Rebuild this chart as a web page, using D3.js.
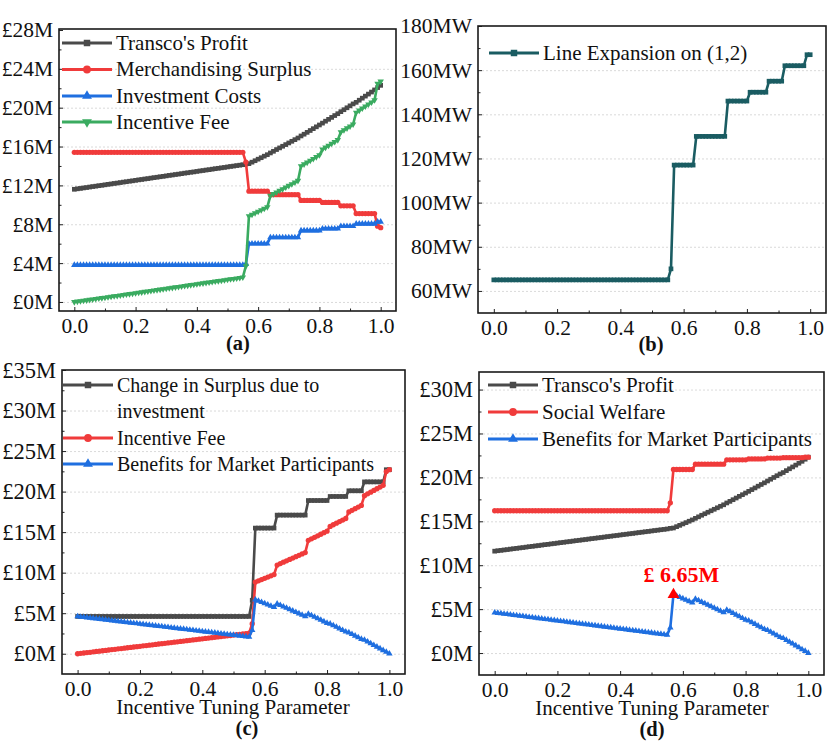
<!DOCTYPE html>
<html><head><meta charset="utf-8">
<script src="https://cdn.jsdelivr.net/npm/d3@7/dist/d3.min.js"></script>
<style>
body{margin:0;background:#fff}
text{font-family:"Liberation Serif","Times New Roman",serif}
</style>
</head><body>
<svg id="chart" width="830" height="748"></svg>
<script>
// ---------------- DATA ----------------
const tuning = [
0.00,0.01,0.02,0.03,0.04,0.05,0.06,0.07,0.08,0.09,
0.10,0.11,0.12,0.13,0.14,0.15,0.16,0.17,0.18,0.19,
0.20,0.21,0.22,0.23,0.24,0.25,0.26,0.27,0.28,0.29,
0.30,0.31,0.32,0.33,0.34,0.35,0.36,0.37,0.38,0.39,
0.40,0.41,0.42,0.43,0.44,0.45,0.46,0.47,0.48,0.49,
0.50,0.51,0.52,0.53,0.54,0.55,0.56,0.57,0.58,0.59,
0.60,0.61,0.62,0.63,0.64,0.65,0.66,0.67,0.68,0.69,
0.70,0.71,0.72,0.73,0.74,0.75,0.76,0.77,0.78,0.79,
0.80,0.81,0.82,0.83,0.84,0.85,0.86,0.87,0.88,0.89,
0.90,0.91,0.92,0.93,0.94,0.95,0.96,0.97,0.98,0.99,
1.00];

const transcoProfit = [
11.60,11.65,11.69,11.74,11.78,11.83,11.88,11.92,11.97,12.01,
12.06,12.11,12.15,12.20,12.24,12.29,12.34,12.38,12.43,12.47,
12.52,12.57,12.61,12.66,12.70,12.75,12.80,12.84,12.89,12.93,
12.98,13.03,13.07,13.12,13.16,13.21,13.26,13.30,13.35,13.39,
13.44,13.49,13.53,13.58,13.62,13.67,13.72,13.76,13.81,13.85,
13.90,13.95,13.99,14.04,14.08,14.13,14.20,14.24,14.39,14.54,
14.70,14.85,15.01,15.16,15.34,15.51,15.69,15.86,16.03,16.20,
16.37,16.54,16.71,16.88,17.09,17.27,17.46,17.65,17.84,18.03,
18.22,18.41,18.61,18.80,19.00,19.19,19.38,19.59,19.79,19.99,
20.19,20.39,20.55,20.77,20.98,21.19,21.40,21.61,21.83,22.07,
22.30];

const merchandisingSurplus = [
15.4,15.4,15.4,15.4,15.4,15.4,15.4,15.4,15.4,15.4,
15.4,15.4,15.4,15.4,15.4,15.4,15.4,15.4,15.4,15.4,
15.4,15.4,15.4,15.4,15.4,15.4,15.4,15.4,15.4,15.4,
15.4,15.4,15.4,15.4,15.4,15.4,15.4,15.4,15.4,15.4,
15.4,15.4,15.4,15.4,15.4,15.4,15.4,15.4,15.4,15.4,
15.4,15.4,15.4,15.4,15.4,15.4,14.4,11.4,11.4,11.4,
11.4,11.4,11.4,11.4,11.05,11.05,11.05,11.05,11.05,11.05,
11.05,11.05,11.05,11.05,10.45,10.45,10.45,10.45,10.45,10.45,
10.45,10.25,10.25,10.25,10.25,10.25,10.25,9.9,9.9,9.9,
9.9,9.9,9.1,9.1,9.1,9.1,9.1,9.1,9.1,7.8,
7.65];

const investmentCosts = [
3.8,3.8,3.8,3.8,3.8,3.8,3.8,3.8,3.8,3.8,
3.8,3.8,3.8,3.8,3.8,3.8,3.8,3.8,3.8,3.8,
3.8,3.8,3.8,3.8,3.8,3.8,3.8,3.8,3.8,3.8,
3.8,3.8,3.8,3.8,3.8,3.8,3.8,3.8,3.8,3.8,
3.8,3.8,3.8,3.8,3.8,3.8,3.8,3.8,3.8,3.8,
3.8,3.8,3.8,3.8,3.8,3.8,3.9,6.0,6.0,6.0,
6.0,6.0,6.0,6.0,6.65,6.65,6.65,6.65,6.65,6.65,
6.65,6.65,6.65,6.65,7.35,7.35,7.35,7.35,7.35,7.35,
7.35,7.55,7.55,7.55,7.55,7.55,7.55,7.8,7.8,7.8,
7.8,7.8,8.05,8.05,8.05,8.05,8.05,8.05,8.05,8.25,
8.25];

const incentiveFee = [
0.00,0.05,0.09,0.14,0.18,0.23,0.28,0.32,0.37,0.41,
0.46,0.51,0.55,0.60,0.64,0.69,0.74,0.78,0.83,0.87,
0.92,0.97,1.01,1.06,1.10,1.15,1.20,1.24,1.29,1.33,
1.38,1.43,1.47,1.52,1.56,1.61,1.66,1.70,1.75,1.79,
1.84,1.89,1.93,1.98,2.02,2.07,2.12,2.16,2.21,2.25,
2.30,2.35,2.39,2.44,2.48,2.53,3.70,8.84,8.99,9.15,
9.30,9.46,9.61,9.77,10.94,11.12,11.29,11.46,11.63,11.80,
11.97,12.14,12.31,12.48,13.99,14.18,14.36,14.55,14.74,14.93,
15.12,15.71,15.91,16.10,16.30,16.49,16.68,17.49,17.69,17.89,
18.09,18.29,19.50,19.72,19.93,20.14,20.35,20.56,20.78,22.47,
22.70];

const lineExpansion = [
65,65,65,65,65,65,65,65,65,65,
65,65,65,65,65,65,65,65,65,65,
65,65,65,65,65,65,65,65,65,65,
65,65,65,65,65,65,65,65,65,65,
65,65,65,65,65,65,65,65,65,65,
65,65,65,65,65,65,70,117,117,117,
117,117,117,117,130,130,130,130,130,130,
130,130,130,130,146,146,146,146,146,146,
146,150,150,150,150,150,150,155,155,155,
155,155,162,162,162,162,162,162,162,167,
167];

const surplusChange = [
4.6,4.6,4.6,4.6,4.6,4.6,4.6,4.6,4.6,4.6,
4.6,4.6,4.6,4.6,4.6,4.6,4.6,4.6,4.6,4.6,
4.6,4.6,4.6,4.6,4.6,4.6,4.6,4.6,4.6,4.6,
4.6,4.6,4.6,4.6,4.6,4.6,4.6,4.6,4.6,4.6,
4.6,4.6,4.6,4.6,4.6,4.6,4.6,4.6,4.6,4.6,
4.6,4.6,4.6,4.6,4.6,4.6,6.6,15.5,15.5,15.5,
15.5,15.5,15.5,15.5,17.1,17.1,17.1,17.1,17.1,17.1,
17.1,17.1,17.1,17.1,18.9,18.9,18.9,18.9,18.9,18.9,
18.9,19.4,19.4,19.4,19.4,19.4,19.4,20.1,20.1,20.1,
20.1,20.1,21.2,21.2,21.2,21.2,21.2,21.2,21.2,22.7,
22.7];

const participantBenefits = [
4.60,4.55,4.51,4.46,4.42,4.37,4.32,4.28,4.23,4.19,
4.14,4.09,4.05,4.00,3.96,3.91,3.86,3.82,3.77,3.73,
3.68,3.63,3.59,3.54,3.50,3.45,3.40,3.36,3.31,3.27,
3.22,3.17,3.13,3.08,3.04,2.99,2.94,2.90,2.85,2.81,
2.76,2.71,2.67,2.62,2.58,2.53,2.48,2.44,2.39,2.35,
2.30,2.25,2.21,2.16,2.12,2.07,2.90,6.67,6.51,6.36,
6.20,6.05,5.89,5.74,6.16,5.99,5.81,5.64,5.47,5.30,
5.13,4.96,4.79,4.62,4.91,4.73,4.54,4.35,4.16,3.97,
3.78,3.69,3.49,3.30,3.10,2.91,2.72,2.61,2.41,2.21,
2.01,1.81,1.70,1.48,1.27,1.06,0.85,0.64,0.42,0.23,
0.00];

const socialWelfare = [
16.2,16.2,16.2,16.2,16.2,16.2,16.2,16.2,16.2,16.2,
16.2,16.2,16.2,16.2,16.2,16.2,16.2,16.2,16.2,16.2,
16.2,16.2,16.2,16.2,16.2,16.2,16.2,16.2,16.2,16.2,
16.2,16.2,16.2,16.2,16.2,16.2,16.2,16.2,16.2,16.2,
16.2,16.2,16.2,16.2,16.2,16.2,16.2,16.2,16.2,16.2,
16.2,16.2,16.2,16.2,16.2,16.2,17.1,20.9,20.9,20.9,
20.9,20.9,20.9,20.9,21.5,21.5,21.5,21.5,21.5,21.5,
21.5,21.5,21.5,21.5,22.0,22.0,22.0,22.0,22.0,22.0,
22.0,22.1,22.1,22.1,22.1,22.1,22.1,22.2,22.2,22.2,
22.2,22.2,22.25,22.25,22.25,22.25,22.25,22.25,22.25,22.3,
22.3];

const xTicks = [0, 0.2, 0.4, 0.6, 0.8, 1.0];
const xMinorTicks = [0.1, 0.3, 0.5, 0.7, 0.9];
const yTicksA = [0, 4, 8, 12, 16, 20, 24, 28];
const yTicksB = [60, 80, 100, 120, 140, 160, 180];
const yTicksC = [0, 5, 10, 15, 20, 25, 30, 35];
const yTicksD = [0, 5, 10, 15, 20, 25, 30];
const peakX = 0.57, peakValue = 6.65, peakLabel = "£ 6.65M";
const xTitle = "Incentive Tuning Parameter";

// ---------------- DRAW ----------------
const svg = d3.select("#chart");
svg.append("rect").attr("width",830).attr("height",748).attr("fill","#fff");

const C = {black:"#4a4a4a", red:"#f03b3b", blue:"#1f6fe0", green:"#3aab60", teal:"#1a5c62"};
const FAM = '"Liberation Serif","Times New Roman",serif';
const money = v => "£" + v + "M";
const mw = v => v + "MW";

function minorsOf(ticks){
  const st = ticks[1]-ticks[0], out=[];
  for (let i=0;i<ticks.length-1;i++) out.push(ticks[i]+st/2);
  return out;
}

function panel(cfg){
  const g = svg.append("g");
  const x = d3.scaleLinear().domain([-0.05,1.05]).range([cfg.left,cfg.right]);
  const y = d3.scaleLinear().domain(cfg.yDomain).range([cfg.bottom,cfg.top]);
  const W = cfg.right-cfg.left;

  // grid
  g.append("g").attr("transform",`translate(${cfg.left},0)`)
    .call(d3.axisLeft(y).tickValues(cfg.yTicks.filter(v=>y(v)>cfg.top+3)).tickSize(-W).tickFormat(""))
    .call(a=>a.select(".domain").remove())
    .call(a=>a.selectAll("line").attr("stroke","#d0d0d0").attr("stroke-width",0.8).attr("stroke-dasharray","2,2"));

  // series
  const clipId = "clip"+cfg.id;
  svg.append("clipPath").attr("id",clipId).append("rect")
     .attr("x",cfg.left).attr("y",cfg.top).attr("width",W).attr("height",cfg.bottom-cfg.top);
  const plot = g.append("g").attr("clip-path",`url(#${clipId})`);
  cfg.series.forEach(s=>{
    const line = d3.line().x((d,i)=>x(tuning[i])).y(d=>y(d));
    plot.append("path").datum(s.values).attr("d",line).attr("fill","none")
      .attr("stroke",s.color).attr("stroke-width",2.6).attr("stroke-linejoin","round");
    plot.append("g").selectAll("path").data(s.values).join("path")
      .attr("transform",(d,i)=>`translate(${x(tuning[i])},${y(d)})${s.down?" rotate(180)":""}`)
      .attr("d", d3.symbol().type(s.symbol).size(s.msize))
      .attr("fill", s.color);
  });

  // axes
  const ax = g.append("g").attr("transform",`translate(${cfg.left},0)`)
    .call(d3.axisLeft(y).tickValues(cfg.yTicks).tickSize(-4).tickPadding(6).tickFormat(cfg.fmt));
  ax.select(".domain").remove();
  ax.selectAll("text").attr("font-size",cfg.yfs).attr("font-family",FAM).attr("fill","#111");
  ax.selectAll("line").attr("stroke","#222");
  const axm = g.append("g").attr("transform",`translate(${cfg.left},0)`)
    .call(d3.axisLeft(y).tickValues(minorsOf(cfg.yTicks).filter(v=>y(v)>cfg.top)).tickSize(-2.5).tickFormat(""));
  axm.select(".domain").remove(); axm.selectAll("line").attr("stroke","#222");

  const bx = g.append("g").attr("transform",`translate(0,${cfg.bottom})`)
    .call(d3.axisBottom(x).tickValues(xTicks).tickSize(-4).tickPadding(7).tickFormat(d3.format(".1f")));
  bx.select(".domain").remove();
  bx.selectAll("text").attr("font-size",21.5).attr("font-family",FAM).attr("fill","#111");
  bx.selectAll("line").attr("stroke","#222");
  const bxm = g.append("g").attr("transform",`translate(0,${cfg.bottom})`)
    .call(d3.axisBottom(x).tickValues(xMinorTicks).tickSize(-2.5).tickFormat(""));
  bxm.select(".domain").remove(); bxm.selectAll("line").attr("stroke","#222");

  g.append("rect").attr("x",cfg.left).attr("y",cfg.top).attr("width",W).attr("height",cfg.bottom-cfg.top)
    .attr("fill","none").attr("stroke","#1a1a1a").attr("stroke-width",1.6);

  // legend
  const L = cfg.legend;
  cfg.series.forEach((s,k)=>{
    const ly = L.rows[k];
    g.append("line").attr("x1",L.x).attr("x2",L.x+50).attr("y1",ly).attr("y2",ly)
      .attr("stroke",s.color).attr("stroke-width",2.8);
    g.append("path").attr("transform",`translate(${L.x+25},${ly})${s.down?" rotate(180)":""}`)
      .attr("d", d3.symbol().type(s.symbol).size(s.lsize)).attr("fill",s.color);
    const lines = Array.isArray(s.name)?s.name:[s.name];
    lines.forEach((t,j)=>{
      g.append("text").attr("x",L.x+54).attr("y",ly+6.5+j*26).attr("font-size",L.fs).attr("fill","#111").text(t);
    });
  });

  // titles
  if (cfg.xTitle){
    g.append("text").attr("x",cfg.titleX).attr("y",cfg.titleY).attr("text-anchor","middle")
      .attr("font-size",21).attr("fill","#111").text(cfg.xTitle);
  }
  g.append("text").attr("x",cfg.tagX).attr("y",cfg.tagY).attr("text-anchor","middle")
    .attr("font-size",20.5).attr("font-weight","bold").attr("fill","#111").text(cfg.tag);

  return {x,y,g};
}

const sq = d3.symbolSquare, ci = d3.symbolCircle, tr = d3.symbolTriangle;

panel({id:"a", left:59,right:396,top:29,bottom:311, yDomain:[-0.93,28.1], yTicks:yTicksA, fmt:money, yfs:21.5,
  series:[
    {name:"Transco's Profit", values:transcoProfit, color:C.black, symbol:sq, msize:22, lsize:42},
    {name:"Merchandising Surplus", values:merchandisingSurplus, color:C.red, symbol:ci, msize:22, lsize:48},
    {name:"Investment Costs", values:investmentCosts, color:C.blue, symbol:tr, msize:18, lsize:42},
    {name:"Incentive Fee", values:incentiveFee, color:C.green, symbol:tr, down:true, msize:18, lsize:42}
  ],
  legend:{x:62, rows:[43,69.5,96,122], fs:21},
  tag:"(a)", tagX:238, tagY:350});

panel({id:"b", left:478,right:826,top:26,bottom:313, yDomain:[50,180], yTicks:yTicksB, fmt:mw, yfs:21.5,
  series:[
    {name:"Line Expansion on (1,2)", values:lineExpansion, color:C.teal, symbol:sq, msize:22, lsize:42}
  ],
  legend:{x:489, rows:[53], fs:21},
  tag:"(b)", tagX:651, tagY:351});

panel({id:"c", left:62,right:405,top:370,bottom:674, yDomain:[-2.5,35], yTicks:yTicksC, fmt:money, yfs:22.5,
  series:[
    {name:["Change in Surplus due to","investment"], values:surplusChange, color:C.black, symbol:sq, msize:22, lsize:42},
    {name:"Incentive Fee", values:incentiveFee, color:C.red, symbol:ci, msize:22, lsize:48},
    {name:"Benefits for Market Participants", values:participantBenefits, color:C.blue, symbol:tr, msize:18, lsize:42}
  ],
  legend:{x:63, rows:[385,438,464], fs:20},
  xTitle:xTitle, titleX:233, titleY:714,
  tag:"(c)", tagX:247, tagY:735});

const pd = panel({id:"d", left:479,right:824,top:372,bottom:675, yDomain:[-2.5,32], yTicks:yTicksD, fmt:money, yfs:22.5,
  series:[
    {name:"Transco's Profit", values:transcoProfit, color:C.black, symbol:sq, msize:22, lsize:42},
    {name:"Social Welfare", values:socialWelfare, color:C.red, symbol:ci, msize:22, lsize:48},
    {name:"Benefits for Market Participants", values:participantBenefits, color:C.blue, symbol:tr, msize:18, lsize:42}
  ],
  legend:{x:488, rows:[385,412,439], fs:21},
  xTitle:xTitle, titleX:652, titleY:715,
  tag:"(d)", tagX:652, tagY:736});

// peak annotation
pd.g.append("path").attr("transform",`translate(${pd.x(peakX)},${pd.y(peakValue)})`)
  .attr("d", d3.symbol().type(d3.symbolTriangle).size(60)).attr("fill","#ff0000");
pd.g.append("text").attr("x",pd.x(peakX)+8).attr("y",pd.y(peakValue)-13).attr("text-anchor","middle")
  .attr("font-size",22).attr("font-weight","bold").attr("fill","#ff0000").text(peakLabel);
</script>
</body></html>
